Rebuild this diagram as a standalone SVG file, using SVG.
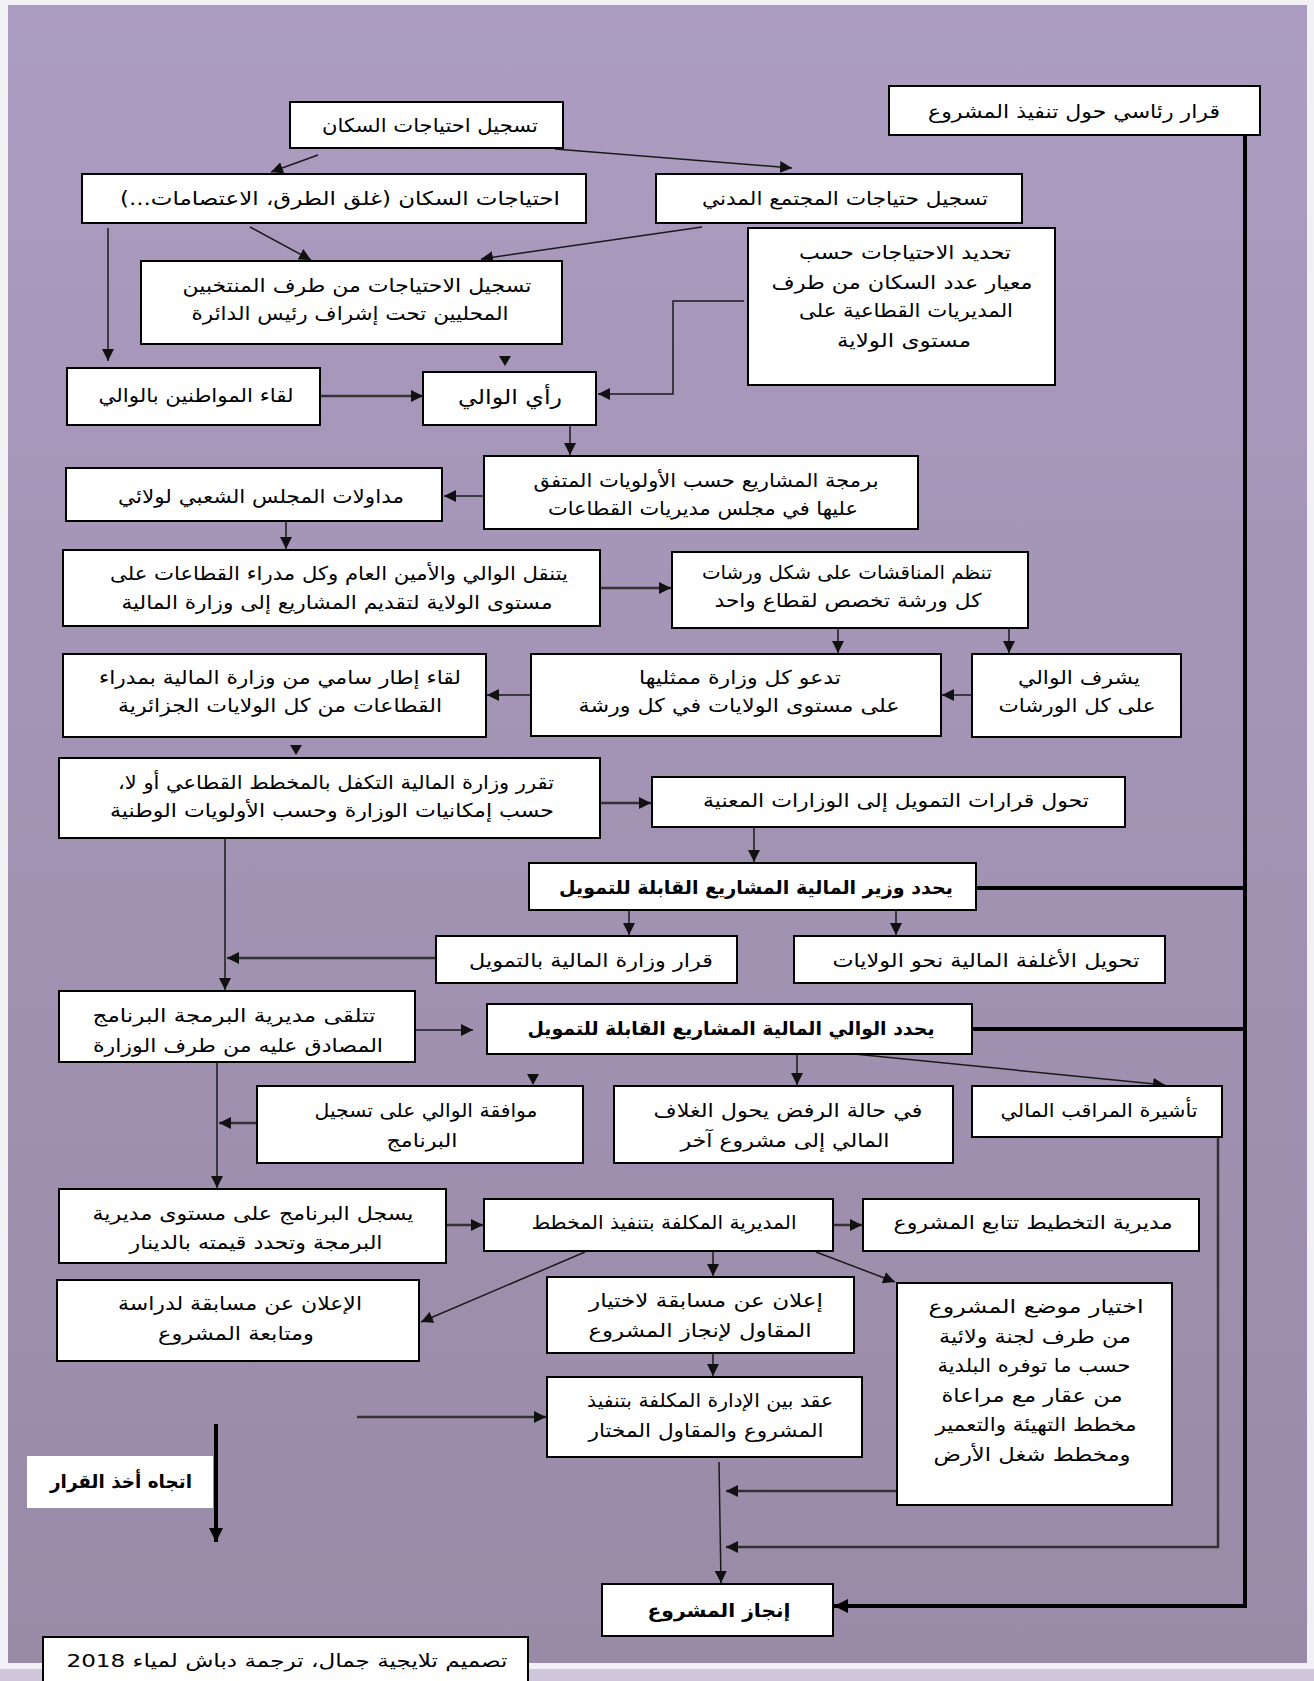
<svg xmlns="http://www.w3.org/2000/svg" width="1314" height="1681" viewBox="0 0 1314 1681">
<defs>
<linearGradient id="bg" x1="0" y1="0" x2="0" y2="1">
<stop offset="0" stop-color="#AB9CC1"/>
<stop offset="1" stop-color="#998AA6"/>
</linearGradient>
<marker id="ah" viewBox="0 0 10 10" refX="10" refY="5" markerWidth="12" markerHeight="12" markerUnits="userSpaceOnUse" orient="auto">
<path d="M0,0 L10,5 L0,10 z" fill="#111"/>
</marker>
<marker id="ahb" viewBox="0 0 10 10" refX="10" refY="5" markerWidth="14" markerHeight="14" markerUnits="userSpaceOnUse" orient="auto">
<path d="M0,0 L10,5 L0,10 z" fill="#000"/>
</marker>
<style>
.box{fill:#fff;stroke:#000;stroke-width:2}
.nb{fill:#fff;stroke:none}
.t{font-family:"DejaVu Sans",sans-serif;font-size:19px;text-anchor:middle;direction:rtl;dominant-baseline:central;fill:#000}
.b{font-weight:bold}
.ln{stroke:#1a1a1a;stroke-width:1.5;fill:none;marker-end:url(#ah)}
.md{stroke:#333;stroke-width:2.5;fill:none;marker-end:url(#ah)}
.tk{stroke:#000;stroke-width:4;fill:none}
.tka{stroke:#000;stroke-width:4;fill:none;marker-end:url(#ahb)}
.ah{fill:#111}
</style>
</defs>
<rect x="0" y="0" width="1314" height="1681" fill="#F1F0F4"/>
<rect x="8" y="5" width="1299" height="1658" fill="url(#bg)"/>
<rect x="0" y="1669" width="1314" height="12" fill="#CFC6D9"/>

<g id="connectors">
<path class="ln" d="M318,155 L271,172"/>
<path class="ln" d="M555,149 L792,168"/>
<path class="ln" d="M250,227 L311,260"/>
<path class="ln" d="M702,227 L481,259"/>
<path class="ln" d="M108,228 L108,361"/>
<polygon class="ah" points="499,356 511,356 505,366"/>
<path class="md" d="M311,396 L423,396"/>
<path class="ln" d="M744,301 L673,301 L673,394 L598,394"/>
<path class="ln" d="M570,425 L570,455"/>
<path class="ln" d="M484,496 L444,496"/>
<path class="ln" d="M286,521 L286,549"/>
<path class="md" d="M600,588 L671,588"/>
<path class="ln" d="M838,628 L838,653"/>
<path class="ln" d="M1009,626 L1009,653"/>
<path class="ln" d="M972,695 L942,695"/>
<path class="ln" d="M531,695 L487,695"/>
<polygon class="ah" points="290,745 302,745 296,755"/>
<path class="md" d="M600,803 L651,803"/>
<path class="ln" d="M754,827 L754,862"/>
<path class="ln" d="M629,910 L629,935"/>
<path class="ln" d="M896,910 L896,935"/>
<path class="ln" d="M225,838 L225,990"/>
<path class="md" d="M436,958 L227,958"/>
<path class="ln" d="M415,1030 L473,1030"/>
<polygon class="ah" points="527,1074 539,1074 533,1085"/>
<path class="ln" d="M797,1054 L797,1085"/>
<path class="ln" d="M854,1054 L1165,1085"/>
<path class="ln" d="M217,1062 L217,1188"/>
<path class="md" d="M257,1123 L219,1123"/>
<path class="md" d="M1218,1137 L1218,1547 L726,1547"/>
<path class="md" d="M446,1225 L483,1225"/>
<path class="md" d="M833,1225 L862,1225"/>
<path class="ln" d="M585,1252 L421,1322"/>
<path class="ln" d="M713,1251 L713,1276"/>
<path class="ln" d="M816,1252 L895,1282"/>
<path class="ln" d="M713,1353 L713,1376"/>
<path class="md" d="M357,1417 L546,1417"/>
<path class="tka" d="M216,1424 L216,1542"/>
<path class="ln" d="M719,1462 L721,1583"/>
<path class="md" d="M897,1491 L726,1491"/>
<path class="tka" d="M1245,135 L1245,1606 L834,1606"/>
<path class="tk" d="M976,888 L1245,888"/>
<path class="tk" d="M972,1029 L1245,1029"/>
</g>

<g id="n1"><rect class="box" x="889" y="86" width="371" height="49"/><text class="t" x="1074" y="111" textLength="292" lengthAdjust="spacingAndGlyphs">قرار رئاسي حول تنفيذ المشروع</text></g>
<g id="n2"><rect class="box" x="290" y="102" width="273" height="46"/><text class="t" x="430" y="125" textLength="216" lengthAdjust="spacingAndGlyphs">تسجيل احتياجات السكان</text></g>
<g id="n3"><rect class="box" x="82" y="174" width="504" height="49"/><text class="t" x="340" y="198" textLength="440" lengthAdjust="spacingAndGlyphs">احتياجات السكان  (غلق الطرق، الاعتصامات...)</text></g>
<g id="n4"><rect class="box" x="656" y="174" width="366" height="49"/><text class="t" x="845" y="198" textLength="286" lengthAdjust="spacingAndGlyphs">تسجيل حتياجات المجتمع المدني</text></g>
<g id="n5"><rect class="box" x="141" y="261" width="421" height="83"/><text class="t" x="357" y="285" textLength="349" lengthAdjust="spacingAndGlyphs">تسجيل الاحتياجات من طرف المنتخبين</text><text class="t" x="350" y="313" textLength="317" lengthAdjust="spacingAndGlyphs">المحليين تحت إشراف رئيس الدائرة</text></g>
<g id="n6"><rect class="box" x="748" y="228" width="307" height="157"/><text class="t" x="905" y="252" textLength="212" lengthAdjust="spacingAndGlyphs">تحديد الاحتياجات حسب</text><text class="t" x="902" y="282" textLength="261" lengthAdjust="spacingAndGlyphs">معيار عدد السكان من طرف</text><text class="t" x="906" y="310" textLength="214" lengthAdjust="spacingAndGlyphs">المديريات القطاعية على</text><text class="t" x="904" y="340" textLength="134" lengthAdjust="spacingAndGlyphs">مستوى الولاية</text></g>
<g id="n7"><rect class="box" x="67" y="368" width="253" height="57"/><text class="t" x="196" y="395" textLength="195" lengthAdjust="spacingAndGlyphs">لقاء المواطنين بالوالي</text></g>
<g id="n8"><rect class="box" x="423" y="372" width="173" height="53"/><text class="t" x="510" y="397" textLength="104" lengthAdjust="spacingAndGlyphs" style="font-size:20px">رأي الوالي</text></g>
<g id="n9"><rect class="box" x="484" y="456" width="434" height="73"/><text class="t" x="706" y="480" textLength="345" lengthAdjust="spacingAndGlyphs">برمجة المشاريع حسب الأولويات المتفق</text><text class="t" x="703" y="508" textLength="310" lengthAdjust="spacingAndGlyphs">عليها في مجلس مديريات القطاعات</text></g>
<g id="n10"><rect class="box" x="66" y="468" width="376" height="53"/><text class="t" x="261" y="496" textLength="286" lengthAdjust="spacingAndGlyphs">مداولات المجلس الشعبي لولائي</text></g>
<g id="n11"><rect class="box" x="63" y="550" width="537" height="76"/><text class="t" x="339" y="573" textLength="458" lengthAdjust="spacingAndGlyphs">يتنقل الوالي والأمين العام وكل مدراء القطاعات على</text><text class="t" x="337" y="602" textLength="431" lengthAdjust="spacingAndGlyphs">مستوى الولاية لتقديم المشاريع إلى وزارة المالية</text></g>
<g id="n12"><rect class="box" x="672" y="552" width="356" height="76"/><text class="t" x="847" y="572" textLength="290" lengthAdjust="spacingAndGlyphs">تنظم المناقشات على شكل ورشات</text><text class="t" x="848" y="600" textLength="267" lengthAdjust="spacingAndGlyphs">كل ورشة تخصص لقطاع واحد</text></g>
<g id="n13"><rect class="box" x="972" y="654" width="209" height="83"/><text class="t" x="1079" y="677" textLength="122" lengthAdjust="spacingAndGlyphs">يشرف الوالي</text><text class="t" x="1077" y="705" textLength="157" lengthAdjust="spacingAndGlyphs">على كل الورشات</text></g>
<g id="n14"><rect class="box" x="531" y="654" width="410" height="82"/><text class="t" x="740" y="677" textLength="202" lengthAdjust="spacingAndGlyphs">تدعو كل وزارة ممثليها</text><text class="t" x="739" y="705" textLength="321" lengthAdjust="spacingAndGlyphs">على مستوى  الولايات في كل ورشة</text></g>
<g id="n15"><rect class="box" x="63" y="654" width="423" height="83"/><text class="t" x="280" y="677" textLength="362" lengthAdjust="spacingAndGlyphs">لقاء إطار سامي من وزارة المالية بمدراء</text><text class="t" x="280" y="705" textLength="324" lengthAdjust="spacingAndGlyphs">القطاعات من كل الولايات الجزائرية</text></g>
<g id="n16"><rect class="box" x="59" y="758" width="541" height="80"/><text class="t" x="336" y="782" textLength="436" lengthAdjust="spacingAndGlyphs">تقرر وزارة المالية التكفل بالمخطط القطاعي أو لا،</text><text class="t" x="332" y="810" textLength="444" lengthAdjust="spacingAndGlyphs">حسب إمكانيات الوزارة وحسب الأولويات الوطنية</text></g>
<g id="n17"><rect class="box" x="652" y="777" width="473" height="50"/><text class="t" x="896" y="800" textLength="386" lengthAdjust="spacingAndGlyphs">تحول قرارات التمويل إلى الوزارات المعنية</text></g>
<g id="n18"><rect class="box" x="529" y="863" width="447" height="47"/><text class="t b" x="756" y="887" textLength="394" lengthAdjust="spacingAndGlyphs">يحدد وزير المالية المشاريع القابلة للتمويل</text></g>
<g id="n19"><rect class="box" x="436" y="936" width="301" height="47"/><text class="t" x="591" y="960" textLength="244" lengthAdjust="spacingAndGlyphs">قرار وزارة المالية بالتمويل</text></g>
<g id="n20"><rect class="box" x="794" y="936" width="371" height="47"/><text class="t" x="986" y="960" textLength="307" lengthAdjust="spacingAndGlyphs">تحويل الأغلفة المالية نحو الولايات</text></g>
<g id="n21"><rect class="box" x="59" y="991" width="356" height="71"/><text class="t" x="234" y="1015" textLength="283" lengthAdjust="spacingAndGlyphs">تتلقى مديرية البرمجة البرنامج</text><text class="t" x="238" y="1045" textLength="290" lengthAdjust="spacingAndGlyphs">المصادق عليه من طرف الوزارة</text></g>
<g id="n22"><rect class="box" x="487" y="1004" width="485" height="50"/><text class="t b" x="731" y="1028" textLength="407" lengthAdjust="spacingAndGlyphs">يحدد الوالي المالية المشاريع القابلة للتمويل</text></g>
<g id="n23"><rect class="box" x="257" y="1086" width="326" height="77"/><text class="t" x="426" y="1110" textLength="223" lengthAdjust="spacingAndGlyphs">موافقة الوالي على تسجيل</text><text class="t" x="422" y="1140" textLength="71" lengthAdjust="spacingAndGlyphs">البرنامج</text></g>
<g id="n24"><rect class="box" x="614" y="1086" width="339" height="77"/><text class="t" x="788" y="1110" textLength="269" lengthAdjust="spacingAndGlyphs">في حالة الرفض يحول الغلاف</text><text class="t" x="785" y="1140" textLength="209" lengthAdjust="spacingAndGlyphs">المالي إلى مشروع آخر</text></g>
<g id="n25"><rect class="box" x="972" y="1086" width="250" height="51"/><text class="t" x="1099" y="1110" textLength="197" lengthAdjust="spacingAndGlyphs">تأشيرة المراقب المالي</text></g>
<g id="n26"><rect class="box" x="59" y="1189" width="387" height="74"/><text class="t" x="253" y="1213" textLength="321" lengthAdjust="spacingAndGlyphs">يسجل البرنامج على مستوى مديرية</text><text class="t" x="256" y="1242" textLength="253" lengthAdjust="spacingAndGlyphs">البرمجة وتحدد قيمته بالدينار</text></g>
<g id="n27"><rect class="box" x="484" y="1199" width="349" height="52"/><text class="t" x="664" y="1222" textLength="265" lengthAdjust="spacingAndGlyphs">المديرية المكلفة بتنفيذ المخطط</text></g>
<g id="n28"><rect class="box" x="863" y="1199" width="336" height="52"/><text class="t" x="1033" y="1222" textLength="279" lengthAdjust="spacingAndGlyphs">مديرية التخطيط تتابع المشروع</text></g>
<g id="n29"><rect class="box" x="57" y="1280" width="362" height="81"/><text class="t" x="240" y="1303" textLength="244" lengthAdjust="spacingAndGlyphs">الإعلان عن مسابقة لدراسة</text><text class="t" x="236" y="1333" textLength="156" lengthAdjust="spacingAndGlyphs">ومتابعة المشروع</text></g>
<g id="n30"><rect class="box" x="547" y="1277" width="307" height="76"/><text class="t" x="706" y="1300" textLength="234" lengthAdjust="spacingAndGlyphs">إعلان عن مسابقة لاختيار</text><text class="t" x="700" y="1330" textLength="223" lengthAdjust="spacingAndGlyphs">المقاول لإنجاز المشروع</text></g>
<g id="n31"><rect class="box" x="897" y="1283" width="275" height="222"/><text class="t" x="1036" y="1306" textLength="215" lengthAdjust="spacingAndGlyphs">اختيار موضع المشروع</text><text class="t" x="1035" y="1336" textLength="192" lengthAdjust="spacingAndGlyphs">من طرف لجنة ولائية</text><text class="t" x="1034" y="1365" textLength="193" lengthAdjust="spacingAndGlyphs">حسب ما توفره البلدية</text><text class="t" x="1032" y="1395" textLength="181" lengthAdjust="spacingAndGlyphs">من عقار مع مراعاة</text><text class="t" x="1036" y="1424" textLength="201" lengthAdjust="spacingAndGlyphs">مخطط التهيئة والتعمير</text><text class="t" x="1032" y="1454" textLength="197" lengthAdjust="spacingAndGlyphs">ومخطط شغل الأرض</text></g>
<g id="n32"><rect class="box" x="547" y="1377" width="315" height="80"/><text class="t" x="710" y="1400" textLength="246" lengthAdjust="spacingAndGlyphs">عقد بين الإدارة المكلفة بتنفيذ</text><text class="t" x="706" y="1430" textLength="235" lengthAdjust="spacingAndGlyphs">المشروع والمقاول المختار</text></g>
<g id="n33"><rect class="nb" x="27" y="1456" width="186" height="52"/><text class="t b" x="121" y="1481" textLength="142" lengthAdjust="spacingAndGlyphs">اتجاه أخذ القرار</text></g>
<g id="n34"><rect class="box" x="602" y="1584" width="231" height="52"/><text class="t b" x="719" y="1610" textLength="143" lengthAdjust="spacingAndGlyphs">إنجاز المشروع</text></g>
<g id="n35"><path d="M43,1681 L43,1637 L528,1637 L528,1681" fill="#fff" stroke="#000" stroke-width="2"/><text class="t" x="287" y="1660" textLength="441" lengthAdjust="spacingAndGlyphs" style="font-size:18px">تصميم تلايجية جمال، ترجمة دباش لمياء    2018</text></g>
</svg>
